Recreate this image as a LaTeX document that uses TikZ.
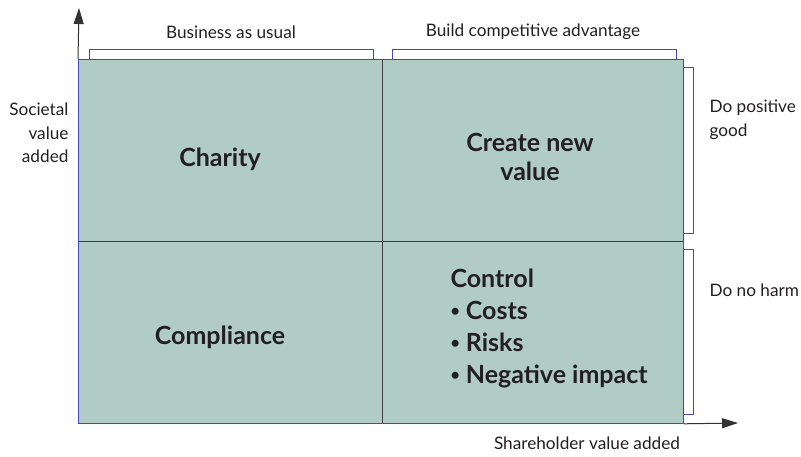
\documentclass[tikz,border=0pt]{standalone}
\usepackage{fontspec}
\setmainfont{Lato}
\usetikzlibrary{positioning,arrows.meta}
\definecolor{quadfill}{RGB}{176,204,196}
\definecolor{bracketblue}{RGB}{70,70,190}
\definecolor{textgray}{RGB}{35,31,32}
\newcommand{\smallbul}{\raisebox{0.12em}{\fontsize{16}{16}\selectfont\textbullet}\ }
\tikzset{
  quad/.style={draw=black!75, fill=quadfill, line width=0.8pt, anchor=north west,
    inner sep=0pt},
  bigtext/.style={font=\fontsize{25}{29}\selectfont\bfseries, text=textgray, align=center},
  sidetext/.style={font=\fontsize{17.2}{23.5}\selectfont, text=textgray},
  bracket/.style={draw=bracketblue, line width=1pt},
  axis/.style={draw=black!80, line width=1pt, -{Triangle[length=16pt,width=10pt]}}
}
\begin{document}
\begin{tikzpicture}[x=1pt,y=-1pt]
   \useasboundingbox (0,0) rectangle (801,456);

   % four quadrants
   \node[quad, minimum width=304, minimum height=182] (q1) at (78,59)  {};
   \node[quad, minimum width=301, minimum height=182] (q2) at (382,59) {};
   \node[quad, minimum width=304, minimum height=182] (q3) at (78,241)  {};
   \node[quad, minimum width=301, minimum height=182] (q4) at (382,241) {};
   \draw[bracketblue, line width=1pt] (q1.north west) rectangle (q4.south east);

   % quadrant labels
   \node[bigtext] (charity) at (220,159) {Charity};
   \node[bigtext] (newvalue) at (530,157) {Create new\\value};
   \node[bigtext] (compliance) at (220,337) {Compliance};
   \node[bigtext, align=left, anchor=base west,
         font=\fontsize{25}{32}\selectfont\bfseries] (control) at (447,383)
        {Control\\\smallbul Costs\\\smallbul Risks\\\smallbul Negative impact};

   % axes
   \coordinate (yend) at (79,8);
   \coordinate (xend) at (738,423);
   \draw[axis] (q1.north west) -- (yend);
   \draw[axis] (q4.south east) -- (xend);

   % top brackets
   \coordinate (b1a) at (89,59);
   \coordinate (b1b) at (373,59);
   \coordinate (b2a) at (392,59);
   \coordinate (b2b) at (676,59);
   \draw[bracket] (b1a) -- ++(0,-10) -| (b1b);
   \draw[bracket] (b2a) -- ++(0,-10) -| (b2b);
   \node[sidetext] (usual) at (231,32) {Business as usual};
   \node[sidetext] (advantage) at (533,32) {Build competitive advantage};

   % right brackets
   \coordinate (b3a) at (683,67);
   \coordinate (b3b) at (683,233);
   \coordinate (b4a) at (683,249);
   \coordinate (b4b) at (683,414);
   \draw[bracket] (b3a) -- ++(10,0) |- (b3b);
   \draw[bracket] (b4a) -- ++(10,0) |- (b4b);
   \node[sidetext, align=left, anchor=west] (positive) at (706,120) {Do positive\\good};
   \node[sidetext, anchor=west] (noharm) at (706,290) {Do no harm};

   % axis titles
   \node[sidetext, align=right, anchor=east] (societal) at (72,133) {Societal\\value\\added};
   \node[sidetext] (shareholder) at (587,443) {Shareholder value added};
\end{tikzpicture}
\end{document}
